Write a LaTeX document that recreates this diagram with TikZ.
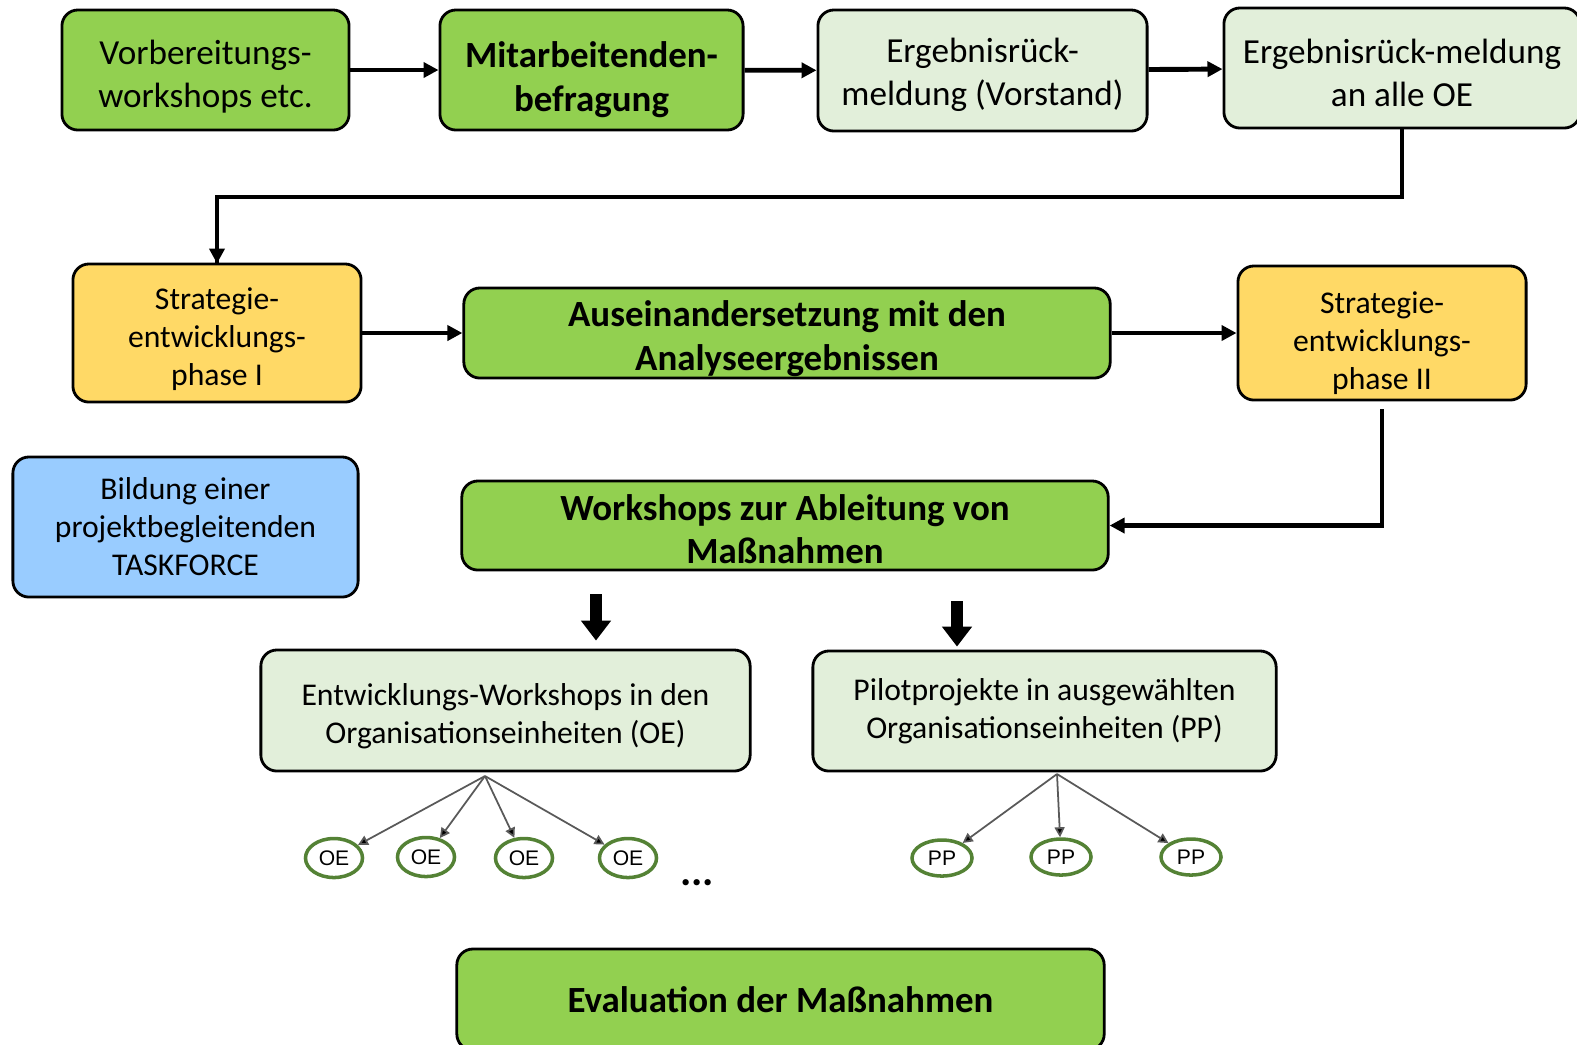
\documentclass[tikz,border=0pt]{standalone}
\usepackage{fontspec}
\setmainfont{Carlito}
\newfontfamily\circfont{Liberation Sans}
\usetikzlibrary{arrows.meta,shapes.geometric}
\definecolor{grass}{HTML}{92D050}
\definecolor{mint}{HTML}{E2EFDA}
\definecolor{sun}{HTML}{FFD966}
\definecolor{sky}{HTML}{99CCFF}
\definecolor{moss}{HTML}{548235}
\newcommand{\dropline}[1][1.05]{\rule{0pt}{#1em}}

\begin{document}
\begin{tikzpicture}[x=0.01cm,y=-0.01cm,
  stagebox/.style={draw,line width=0.8pt,rounded corners=0.16cm,align=center,inner sep=0pt},
  keybox/.style={stagebox,fill=grass,font=\bfseries\fontsize{10.5}{12.5}\selectfont},
  lightbox/.style={stagebox,fill=grass,font=\fontsize{10}{12.2}\selectfont},
  mintbox/.style={stagebox,fill=mint,font=\fontsize{10}{12.2}\selectfont},
  phasebox/.style={stagebox,fill=sun,font=\fontsize{9}{10.8}\selectfont},
  taskbox/.style={stagebox,fill=sky,font=\fontsize{9}{10.8}\selectfont},
  unitbox/.style={stagebox,fill=mint,font=\fontsize{9}{10.8}\selectfont},
  unitcirc/.style={ellipse,draw=moss,line width=1pt,fill=white,inner sep=0pt,
    minimum width=0.57cm,minimum height=0.39cm,font=\circfont\fontsize{6}{7}\selectfont},
  flow/.style={line width=1.4pt,-{Triangle[length=0.15cm,width=0.15cm]}},
  fatarrow/.style={line width=0.12cm,-{Triangle[length=0.2cm,width=0.29cm]}},
  fanline/.style={line width=0.5pt,draw=black!65,-{Triangle[length=0.1cm,width=0.1cm,fill=black]}},
]
\useasboundingbox (0,0) rectangle (1577,1044);

\node[lightbox,minimum width=2.87cm,minimum height=1.2cm] (prep) at (205.5,70) {\dropline Vorbereitungs-\\workshops etc.};
\node[keybox,minimum width=3.03cm,minimum height=1.2cm] (survey) at (591.5,70) {\dropline[1.23]Mitarbeitenden-\\befragung};
\node[mintbox,minimum width=3.29cm,minimum height=1.21cm] (board) at (982.5,70.5) {\dropline[0.95]Ergebnisrück-\\meldung (Vorstand)};
\node[mintbox,minimum width=3.56cm,minimum height=1.2cm] (allOE) at (1402,68) {\dropline[0.95]Ergebnisrück-meldung\\an alle OE};

\node[phasebox,minimum width=2.88cm,minimum height=1.38cm] (phaseI) at (217,333) {\dropline Strategie-\\entwicklungs-\\phase I};
\node[keybox,minimum width=6.46cm,minimum height=0.9cm] (analysis) at (787,333) {\dropline[1.0]Auseinandersetzung mit den\\Analyseergebnissen};
\node[phasebox,minimum width=2.88cm,minimum height=1.34cm] (phaseII) at (1382,333) {\dropline[1.35]Strategie-\\entwicklungs-\\phase II};

\node[taskbox,minimum width=3.45cm,minimum height=1.4cm] (taskforce) at (185.5,527) {Bildung einer\\projektbegleitenden\\TASKFORCE};
\node[keybox,minimum width=6.46cm,minimum height=0.89cm] (derive) at (785,525.5) {\dropline[0.9]Workshops zur Ableitung von\\Maßnahmen};

\node[unitbox,minimum width=4.89cm,minimum height=1.21cm] (devws) at (505.5,710.5) {\dropline Entwicklungs-Workshops in den\\Organisationseinheiten (OE)};
\node[unitbox,minimum width=4.63cm,minimum height=1.2cm] (pilot) at (1044.5,711) {Pilotprojekte in ausgewählten\\Organisationseinheiten (PP)};

\node[keybox,minimum width=6.47cm,minimum height=1.01cm] (eval) at (780.5,999.5) {Evaluation der Maßnahmen};

\draw[flow] (prep) -- (survey);
\draw[flow] (survey) -- (board);
\draw[flow] (board) -- (allOE);
\coordinate (turnTop) at (0,197);
\draw[flow,-] (allOE.south) -- (allOE.south |- turnTop) -| (phaseI.north);
\draw[flow] (phaseI.north) -- ++(0,1);
\draw[flow] (phaseI) -- (analysis);
\draw[flow] (analysis) -- (phaseII);
\draw[flow] ([yshift=-0.08cm]phaseII.south) |- (derive.east);

\coordinate (fatL) at (596,0);
\coordinate (fatR) at (957,0);
\draw[fatarrow] ([yshift=-0.23cm]derive.south -| fatL) -- ([yshift=0.08cm]devws.north -| fatL);
\draw[fatarrow] ([yshift=-0.3cm]derive.south -| fatR) -- ([yshift=0.03cm]pilot.north -| fatR);

\coordinate (fanOE) at (485,776);
\foreach \cx/\cy [count=\i] in {334/858,426/857,524/858,628/858} {
  \node[unitcirc] (oe\i) at (\cx,\cy) {OE};
  \draw[fanline] (fanOE) -- (oe\i);
}
\node[font=\bfseries\fontsize{12}{12}\selectfont] (more) at (697,883) {...};

\coordinate (fanPP) at (1057,774);
\foreach \cx/\cy [count=\i] in {942/858,1061/857,1191/857} {
  \node[unitcirc,minimum width=0.6cm,minimum height=0.36cm] (pp\i) at (\cx,\cy) {PP};
  \draw[fanline] (fanPP) -- (pp\i);
}
\end{tikzpicture}
\end{document}
